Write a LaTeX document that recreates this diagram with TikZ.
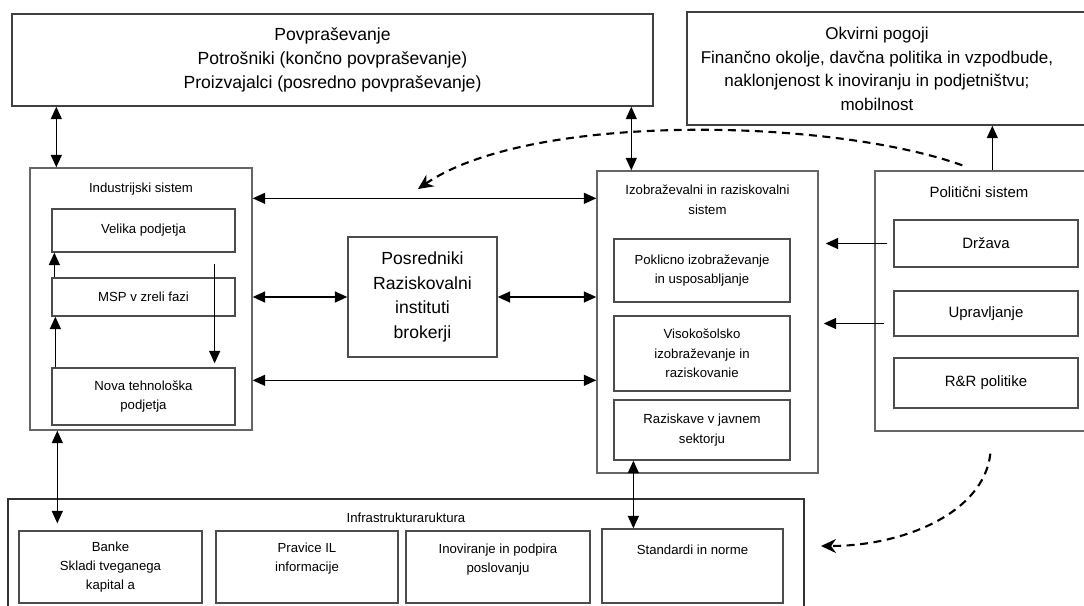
\documentclass[tikz,border=0pt]{standalone}
\usepackage{fontspec}
\setmainfont{Liberation Sans}
\usetikzlibrary{arrows.meta,calc}

\begin{document}
\begin{tikzpicture}[x=0.02cm, y=-0.02cm,
  sysframe/.style={draw=black!60, line width=0.8pt, inner sep=0pt},
  unitbox/.style={draw=black!70, line width=0.75pt, align=center, inner sep=1pt, font=\fontsize{7.5}{11}\selectfont},
  polunit/.style={unitbox, font=\fontsize{8.5}{11}\selectfont},
  bigtext/.style={align=center, font=\fontsize{10}{13.5}\selectfont},
  boxtitle/.style={anchor=center, align=center, font=\fontsize{7.5}{11}\selectfont},
  arr/.style={-{Triangle[length=2.5mm,width=2.2mm]}, line width=0.85pt},
  dbl/.style={{Triangle[length=2.5mm,width=2.2mm]}-{Triangle[length=2.5mm,width=2.2mm]}, line width=0.85pt},
  dasharr/.style={-{Stealth[length=3mm,width=2.8mm]}, line width=1.2pt, dash pattern=on 4.5pt off 3.2pt}
]
  \clip (0,0) rectangle (1084,605);
  % demand and framework conditions
  \node[sysframe, draw=black!75, minimum width=12.82cm, minimum height=1.84cm, bigtext] (dem) at (332.5,60)
    {Povpraševanje\\Potrošniki (končno povpraševanje)\\Proizvajalci (posredno povpraševanje)};
  \node[sysframe, draw=black!75, minimum width=8.26cm, minimum height=2.26cm] (okv) at (893.5,68.5) {};
  \node[bigtext, font=\fontsize{9.7}{13.5}\selectfont] (okvtxt) at (877,69)
    {Okvirni pogoji\\Finančno okolje, davčna politika in vzpodbude,\\naklonjenost k inoviranju in podjetništvu;\\mobilnost};
  % industrial system
  \node[sysframe, minimum width=4.44cm, minimum height=5.24cm,
    label={[boxtitle, yshift=-0.44cm]90:Industrijski sistem}] (ind) at (141,299) {};
  \node[unitbox, minimum width=3.66cm, minimum height=0.86cm] (vel) at (143.5,230.5) {Velika podjetja};
  \node[unitbox, minimum width=3.66cm, minimum height=0.76cm] (msp) at (143.5,297) {MSP v zreli fazi};
  \node[unitbox, minimum width=3.66cm, minimum height=1.14cm] (nov) at (143.5,396.5) {Nova tehnološka\\podjetja};
  % intermediaries
  \node[sysframe, draw=black!70, minimum width=2.98cm, minimum height=2.4cm, bigtext, font=\fontsize{10}{14}\selectfont] (pos) at (422.5,297)
    {Posredniki\\Raziskovalni\\instituti\\brokerji};
  % education and research system
  \node[sysframe, minimum width=4.42cm, minimum height=6.04cm,
    label={[boxtitle, yshift=-0.59cm]90:Izobraževalni in raziskovalni\\sistem}] (izo) at (707.5,322) {};
  \node[unitbox, minimum width=3.52cm, minimum height=1.26cm] (pok) at (702,270.5) {Poklicno izobraževanje\\in usposabljanje};
  \node[unitbox, minimum width=3.52cm, minimum height=1.5cm] (vis) at (702,353.5) {Visokošolsko\\izobraževanje in\\raziskovanie};
  \node[unitbox, minimum width=3.52cm, minimum height=1.2cm] (raz) at (702,430) {Raziskave v javnem\\sektorju};
  % political system
  \node[sysframe, minimum width=4.5cm, minimum height=5.2cm,
    label={[boxtitle, font=\fontsize{8.5}{11}\selectfont, xshift=-0.17cm, yshift=-0.44cm]90:Politični sistem}] (pol) at (987.5,301) {};
  \node[polunit, minimum width=3.68cm, minimum height=0.94cm] (drz) at (986,243.5) {Država};
  \node[polunit, minimum width=3.68cm, minimum height=0.9cm] (upr) at (986,313.5) {Upravljanje};
  \node[polunit, minimum width=3.68cm, minimum height=1.0cm] (rr) at (986,383) {R\&R politike};
  % infrastructure
  \node[sysframe, draw=black!80, line width=0.75pt, minimum width=15.92cm, minimum height=2.82cm,
    label={[boxtitle, yshift=-0.38cm]90:Infrastrukturaruktura}] (inf) at (406,569.5) {};
  \node[unitbox, minimum width=3.66cm, minimum height=1.44cm] (ban) at (110.5,567) {Banke\\Skladi tveganega\\kapital a};
  \node[unitbox, minimum width=3.64cm, minimum height=1.44cm,
    label={[boxtitle, yshift=-0.57cm]90:Pravice IL\\informacije}] (prv) at (307,567) {};
  \node[unitbox, minimum width=3.68cm, minimum height=1.44cm,
    label={[boxtitle, yshift=-0.58cm]90:Inoviranje in podpira\\poslovanju}] (ino) at (498,567) {};
  \node[unitbox, minimum width=3.62cm, minimum height=1.48cm,
    label={[boxtitle, yshift=-0.42cm]90:Standardi in norme}] (sta) at (692.5,566) {};

  % connectors
  \draw[dbl] ($(ind.north west)+(27,0)$) coordinate (p1) -- (p1 |- dem.south);
  \draw[dbl] ($(izo.north west)+(35,0)$) coordinate (p2) -- (p2 |- dem.south);
  \draw[arr] ($(pol.north west)+(118,0)$) coordinate (p3) -- (p3 |- okv.south);
  \draw[dbl] ($(ind.north east)+(0,31)$) coordinate (p4) -- (p4 -| izo.west);
  \draw[dbl] (pos.west) -- (pos.west -| ind.east);
  \draw[dbl] (pos.east) -- (pos.east -| izo.west);
  \draw[dbl] ($(ind.north east)+(0,213)$) coordinate (p5) -- (p5 -| izo.west);
  \draw[arr, shorten <=0.12cm, shorten >=0.14cm] (drz.west) -- (drz.west -| izo.east);
  \draw[arr, shorten <=0.18cm, shorten >=0.1cm] ($(upr.west)+(0,10)$) coordinate (p6) -- (p6 -| izo.east);
  % inside the industrial system
  \draw[arr] ($(msp.north west)+(3,0)$) coordinate (p7) -- (p7 |- vel.south);
  \draw[arr] ($(nov.north west)+(4,0)$) coordinate (p8) -- (p8 |- msp.south);
  \draw[arr, shorten >=0.08cm] ($(vel.south east)+(-21,11)$) coordinate (p9) -- (p9 |- nov.north);
  % to the infrastructure
  \draw[dbl, shorten >=0.14cm] ($(ind.south west)+(28,0)$) coordinate (p10) -- (p10 |- ban.north);
  \draw[dbl] ($(raz.south west)+(20,0)$) coordinate (p11) -- (p11 |- sta.north);
  % policy influence
  \coordinate (tipA) at (418,189);
  \coordinate (tipB) at (821,546);
  \draw[dasharr] ($(pol.north west)+(88,-5)$) .. controls (830,118) and (530,112) .. (tipA);
  \draw[dasharr] ($(pol.south west)+(116,22)$) .. controls (984,512) and (905,546) .. (tipB);
\end{tikzpicture}
\end{document}
